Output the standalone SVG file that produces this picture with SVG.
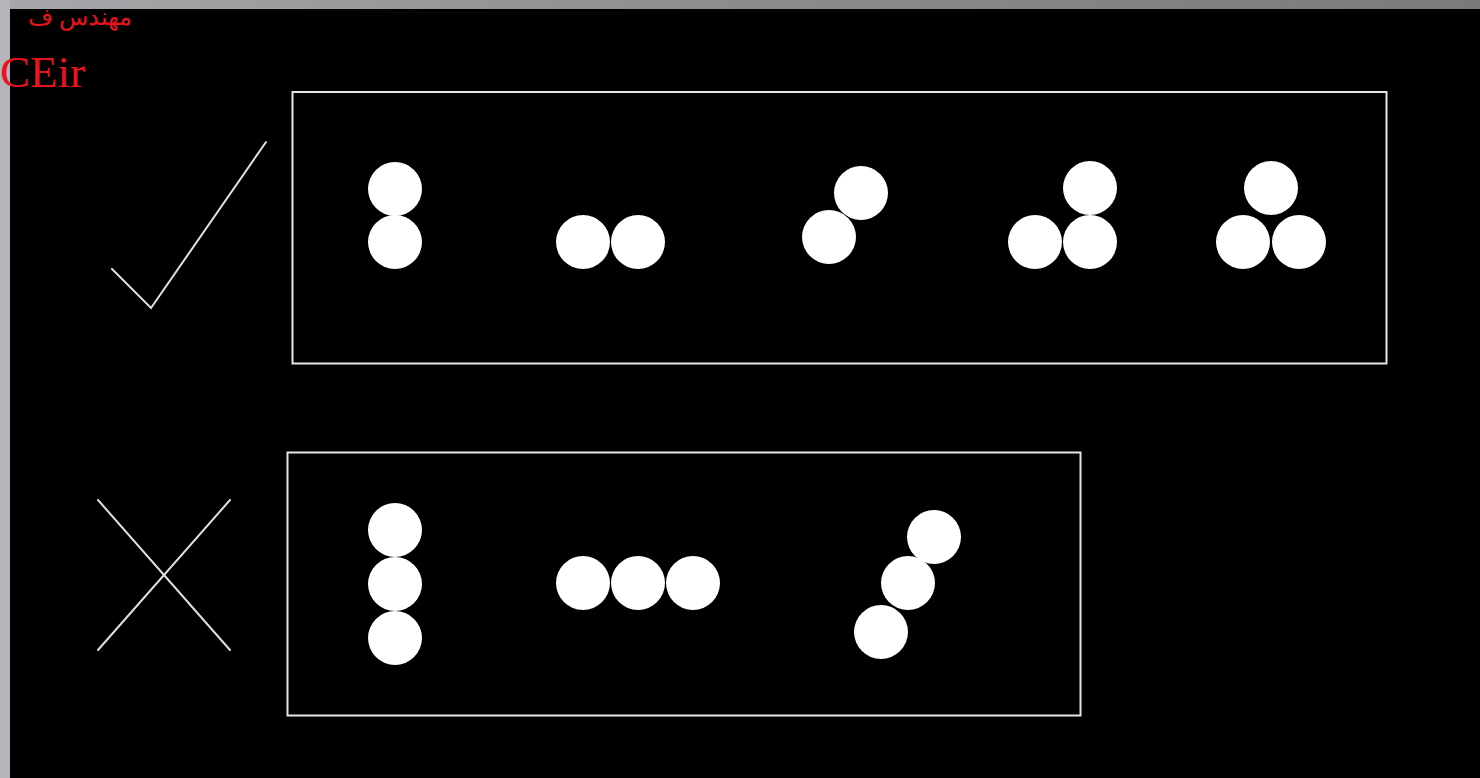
<svg xmlns="http://www.w3.org/2000/svg" width="1480" height="778" viewBox="0 0 1480 778">
<defs>
<style>
.frame{fill:none;stroke:#e6e6e6;stroke-width:2}
.ball{fill:#ffffff}
.mark{fill:none;stroke:#e0e0e0;stroke-width:2;stroke-linecap:round;stroke-linejoin:miter}
.red{fill:#e8141c;font-family:"Liberation Serif","DejaVu Serif",serif}
</style>
<linearGradient id="topbar" x1="0" y1="0" x2="1" y2="0">
<stop offset="0" stop-color="#a8a8ac"/>
<stop offset="0.5" stop-color="#8c8c8c"/>
<stop offset="1" stop-color="#7a7a7a"/>
</linearGradient>
</defs>
<rect x="0" y="0" width="1480" height="778" fill="#000000"/>
<rect x="0" y="0" width="1480" height="9" fill="url(#topbar)"/>
<rect x="0" y="0" width="10" height="778" fill="#b4b4ba"/>
<text class="red" x="132" y="25" font-size="24" text-anchor="end" font-family="'Noto Sans','DejaVu Sans',sans-serif">مهندس ف</text>
<text class="red" x="0" y="87" font-size="45">CEir</text>

<g id="ok-mark"><polyline class="mark" points="112,269 151,308 266,142"/></g>
<g id="no-mark"><line class="mark" x1="98" y1="500" x2="230" y2="650"/><line class="mark" x1="230" y1="500" x2="98" y2="650"/></g>

<g id="ok-box"><rect class="frame" x="292.5" y="92" width="1094" height="271.5"/></g>
<g id="ok-1"><circle class="ball" cx="395" cy="189" r="27"/><circle class="ball" cx="395" cy="242" r="27"/></g>
<g id="ok-2"><circle class="ball" cx="583" cy="242" r="27"/><circle class="ball" cx="638" cy="242" r="27"/></g>
<g id="ok-3"><circle class="ball" cx="861" cy="193" r="27"/><circle class="ball" cx="829" cy="237" r="27"/></g>
<g id="ok-4"><circle class="ball" cx="1090" cy="188" r="27"/><circle class="ball" cx="1035" cy="242" r="27"/><circle class="ball" cx="1090" cy="242" r="27"/></g>
<g id="ok-5"><circle class="ball" cx="1271" cy="188" r="27"/><circle class="ball" cx="1243" cy="242" r="27"/><circle class="ball" cx="1299" cy="242" r="27"/></g>

<g id="no-box"><rect class="frame" x="287.5" y="452.5" width="793" height="263"/></g>
<g id="no-1"><circle class="ball" cx="395" cy="530" r="27"/><circle class="ball" cx="395" cy="584" r="27"/><circle class="ball" cx="395" cy="638" r="27"/></g>
<g id="no-2"><circle class="ball" cx="583" cy="583" r="27"/><circle class="ball" cx="638" cy="583" r="27"/><circle class="ball" cx="693" cy="583" r="27"/></g>
<g id="no-3"><circle class="ball" cx="934" cy="537" r="27"/><circle class="ball" cx="908" cy="583" r="27"/><circle class="ball" cx="881" cy="632" r="27"/></g>
</svg>
